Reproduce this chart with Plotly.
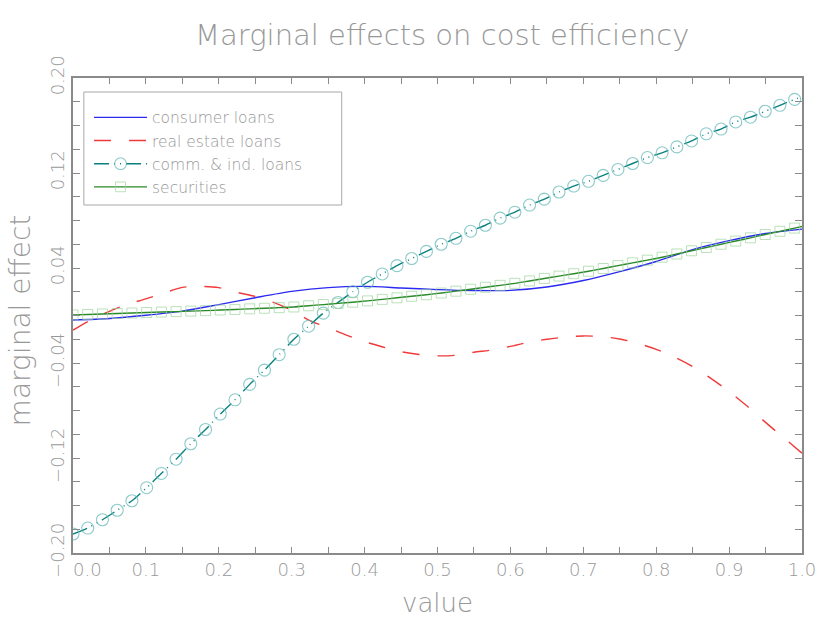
import plotly.graph_objects as go

# ---------------- data ----------------
x_grid = [0.0, 0.0202, 0.0404, 0.0606, 0.0808, 0.101, 0.1212, 0.1414, 0.1616, 0.1818,
          0.202, 0.2222, 0.2424, 0.2626, 0.2828, 0.303, 0.3232, 0.3434, 0.3636, 0.3838,
          0.404, 0.4242, 0.4444, 0.4646, 0.4848, 0.5051, 0.5253, 0.5455, 0.5657, 0.5859,
          0.6061, 0.6263, 0.6465, 0.6667, 0.6869, 0.7071, 0.7273, 0.7475, 0.7677, 0.7879,
          0.8081, 0.8283, 0.8485, 0.8687, 0.8889, 0.9091, 0.9293, 0.9495, 0.9697, 0.9899,
          1.0]

comm_ind_loans = [-0.184, -0.179, -0.172, -0.164, -0.156, -0.145, -0.133, -0.121, -0.108, -0.096,
                  -0.083, -0.071, -0.058, -0.046, -0.033, -0.020, -0.009, 0.002, 0.011, 0.020,
                  0.028, 0.035, 0.042, 0.048, 0.054, 0.060, 0.065, 0.071, 0.076, 0.082,
                  0.087, 0.093, 0.098, 0.104, 0.109, 0.113, 0.118, 0.123, 0.128, 0.133,
                  0.137, 0.142, 0.147, 0.153, 0.157, 0.163, 0.167, 0.172, 0.177, 0.182,
                  0.184]

securities = [0.0005, 0.0009, 0.0013, 0.0017, 0.0021, 0.0025, 0.0029, 0.0033, 0.0037, 0.0041,
              0.0046, 0.0051, 0.0056, 0.0061, 0.0066, 0.0072, 0.0082, 0.0092, 0.0102, 0.0112,
              0.0123, 0.0136, 0.0149, 0.0162, 0.0175, 0.0189, 0.0205, 0.0221, 0.0238, 0.0254,
              0.0271, 0.0291, 0.0312, 0.0332, 0.0352, 0.0373, 0.0396, 0.0420, 0.0443, 0.0466,
              0.0491, 0.0518, 0.0545, 0.0573, 0.0600, 0.0627, 0.0654, 0.0682, 0.0709, 0.0736,
              0.0750]

x_consumer = [0.0, 0.05, 0.1, 0.15, 0.2, 0.25, 0.3, 0.35, 0.4, 0.45, 0.5,
              0.55, 0.6, 0.65, 0.7, 0.75, 0.8, 0.85, 0.9, 0.95, 1.0]
consumer_loans = [-0.0038, -0.0025, 0.0002, 0.0037, 0.0092, 0.0150, 0.0203, 0.0235, 0.0245, 0.0232, 0.0218,
                  0.0210, 0.0212, 0.0240, 0.0295, 0.0370, 0.0455, 0.0555, 0.0630, 0.0690, 0.0727]

x_real_estate = [0.0, 0.025, 0.05, 0.075, 0.1, 0.125, 0.15, 0.175, 0.2, 0.225, 0.25,
                 0.275, 0.3, 0.325, 0.35, 0.375, 0.4, 0.425, 0.45, 0.475, 0.5,
                 0.525, 0.55, 0.575, 0.6, 0.625, 0.65, 0.675, 0.7, 0.725, 0.75,
                 0.775, 0.8, 0.825, 0.85, 0.875, 0.9, 0.925, 0.95, 0.975, 1.0]
real_estate_loans = [-0.0123, -0.0035, 0.0035, 0.0095, 0.0140, 0.0190, 0.0237, 0.0245, 0.0235, 0.0195, 0.0160,
                     0.0110, 0.0043, -0.0043, -0.0103, -0.0165, -0.0220, -0.0265, -0.0305, -0.0328, -0.0340,
                     -0.0335, -0.0310, -0.0290, -0.0260, -0.0225, -0.0200, -0.0182, -0.0172, -0.0178, -0.0198,
                     -0.0235, -0.0285, -0.0350, -0.0430, -0.0530, -0.0640, -0.0765, -0.0900, -0.1030, -0.1160]

series_names = ["consumer loans", "real estate loans", "comm. & ind. loans", "securities"]

x_tick_vals = [0.0, 0.05, 0.1, 0.15, 0.2, 0.25, 0.3, 0.35, 0.4, 0.45, 0.5,
               0.55, 0.6, 0.65, 0.7, 0.75, 0.8, 0.85, 0.9, 0.95, 1.0]
x_tick_text = ["\u00a0\u00a0\u00a0\u00a0\u00a00.0", "", "0.1", "", "0.2", "", "0.3", "", "0.4", "", "0.5",
               "", "0.6", "", "0.7", "", "0.8", "", "0.9", "", "1.0"]
y_tick_vals = [-0.20, -0.18, -0.16, -0.14, -0.12, -0.10, -0.08, -0.06, -0.04, -0.02, 0.0,
               0.02, 0.04, 0.06, 0.08, 0.10, 0.12, 0.14, 0.16, 0.18, 0.20]
y_tick_text = ["\u22120.20", "", "", "", "\u22120.12", "", "", "", "\u22120.04", "", "",
               "", "0.04", "", "", "", "0.12", "", "", "", "0.20"]

# ---------------- styling ----------------
FONT = "DejaVu Sans"
TXT = "#989898"
AX = "#8a8a8a"
W = 300

marker_sizes_circle = [12] * (len(x_grid) - 1) + [0]
marker_sizes_square = [10] * (len(x_grid) - 1) + [0]

fig = go.Figure()

fig.add_trace(go.Scatter(
    x=x_consumer, y=consumer_loans, name=series_names[0], mode="lines",
    line=dict(color="#2a2af0", width=1.4, shape="spline", smoothing=0.8),
))
fig.add_trace(go.Scatter(
    x=x_real_estate, y=real_estate_loans, name=series_names[1], mode="lines",
    line=dict(color="#f03a3a", width=1.4, dash="17px,18px", shape="spline", smoothing=0.8),
))
fig.add_trace(go.Scatter(
    x=x_grid, y=comm_ind_loans, name=series_names[2], mode="lines+markers",
    line=dict(color="#0a8080", width=1.4, dash="15px,5px,1px,5px,1px,5px", shape="spline", smoothing=0.6),
    marker=dict(symbol="circle-open", size=marker_sizes_circle, color="#5cb3b3",
                line=dict(width=1.1)),
))
fig.add_trace(go.Scatter(
    x=x_grid, y=securities, name=series_names[3], mode="lines+markers",
    line=dict(color="#2a8a2a", width=1.4, shape="spline", smoothing=0.6),
    marker=dict(symbol="square-open", size=marker_sizes_square, color="#9cd49c",
                line=dict(width=1.0)),
))

axis_common = dict(
    showgrid=False, zeroline=False, showline=True, linecolor=AX, linewidth=1.6,
    mirror="allticks", ticks="inside", tickcolor=AX, tickwidth=1,
    tickfont=dict(family=FONT, size=18, color=TXT, weight=W),
)

fig.update_xaxes(range=[0, 1], tickmode="array", tickvals=x_tick_vals, ticktext=x_tick_text,
                 ticklen=6, **axis_common)
fig.update_yaxes(range=[-0.20, 0.20], tickmode="array", tickvals=y_tick_vals, ticktext=y_tick_text,
                 ticklen=7, tickangle=-90, **axis_common)

# legend frame
fig.add_shape(type="rect", xref="paper", yref="paper",
              x0=0.0149, x1=0.3686, y0=0.7326, y1=0.9705,
              line=dict(color="#a8a8a8", width=1), fillcolor="rgba(255,255,255,0)", layer="above")

fig.update_layout(
    width=828, height=624,
    margin=dict(l=73, r=17, t=78, b=71),
    paper_bgcolor="white", plot_bgcolor="white",
    font=dict(family=FONT, color=TXT, weight=W),
    title=dict(text="Marginal effects on cost efficiency", x=0.534, xanchor="center",
               y=1 - 35 / 624, yref="container", yanchor="middle",
               font=dict(family=FONT, size=29, color=TXT, weight=W)),
    showlegend=True,
    legend=dict(x=0.022, y=0.952, xanchor="left", yanchor="top",
                bgcolor="rgba(0,0,0,0)", borderwidth=0, itemwidth=53,
                font=dict(family=FONT, size=15.5, color=TXT, weight=W), tracegroupgap=0),
    annotations=[
        dict(text="value", xref="paper", yref="paper", x=0.5, y=-0.105,
             xanchor="center", yanchor="middle", showarrow=False,
             font=dict(family=FONT, size=26, color=TXT, weight=W)),
        dict(text="marginal effect", xref="paper", yref="paper", x=-0.0725, y=0.49,
             xanchor="center", yanchor="middle", showarrow=False, textangle=-90,
             font=dict(family=FONT, size=28, color=TXT, weight=W)),
    ],
)

fig.write_html("out.html")
